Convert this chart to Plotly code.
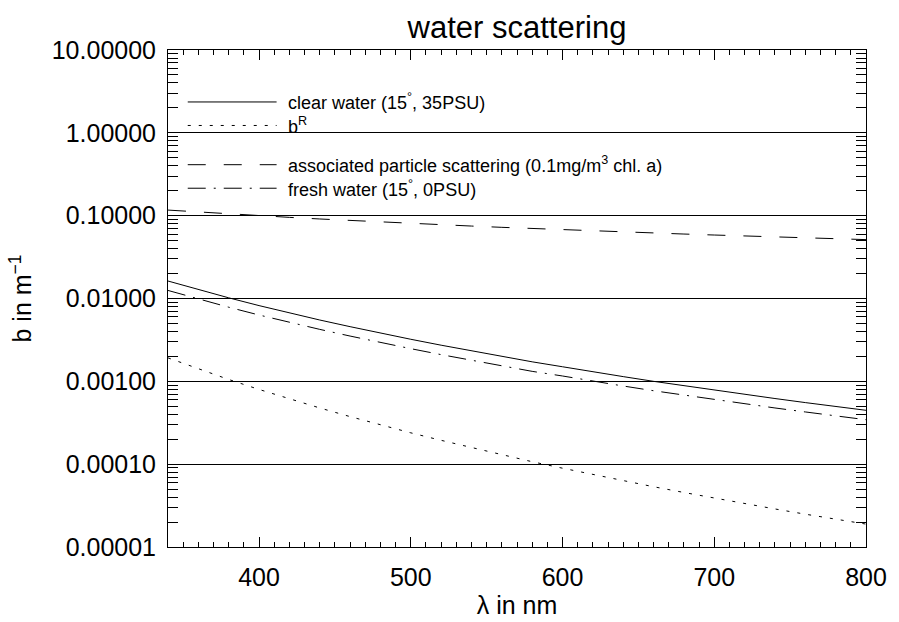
import plotly.graph_objects as go

# Wavelength grid (nm)
wavelength = [340, 360, 380, 400, 420, 440, 460, 480, 500, 520, 540, 560,
              580, 600, 620, 640, 660, 680, 700, 720, 740, 760, 780, 800]

# Scattering coefficients b (1/m)
clear_water = [0.01625, 0.01278, 0.01019, 0.00821, 0.00669, 0.00550, 0.00457, 0.00382,
               0.00322, 0.00273, 0.00233, 0.00200, 0.00172, 0.00150, 0.00130, 0.00114,
               0.00100, 0.000884, 0.000783, 0.000695, 0.000620, 0.000554, 0.000497, 0.000447]
raman = [0.001920, 0.001410, 0.001053, 0.000798, 0.000613, 0.000477, 0.000375, 0.000298,
         0.000239, 0.000194, 0.000158, 0.000130, 0.000107, 0.0000894, 0.0000749, 0.0000631,
         0.0000534, 0.0000455, 0.0000389, 0.0000334, 0.0000288, 0.0000249, 0.0000217, 0.0000189]
particles = [0.1168, 0.1106, 0.1050, 0.0999, 0.0954, 0.0912, 0.0874, 0.0839,
             0.0807, 0.0777, 0.0749, 0.0723, 0.0699, 0.0677, 0.0656, 0.0636,
             0.0618, 0.0600, 0.0584, 0.0568, 0.0554, 0.0540, 0.0526, 0.0514]
fresh_water = [0.01251, 0.00984, 0.00785, 0.00632, 0.00515, 0.00424, 0.00352, 0.00294,
               0.00248, 0.00210, 0.00179, 0.00154, 0.00132, 0.00116, 0.00100, 0.000878,
               0.000770, 0.000681, 0.000603, 0.000535, 0.000477, 0.000427, 0.000383, 0.000344]

series_values = [clear_water, raman, particles, fresh_water]
series_names = ["clear water (15<sup>°</sup>, 35PSU)",
                "b<sup>R</sup>",
                "associated particle scattering (0.1mg/m<sup>3</sup> chl. a)",
                "fresh water (15<sup>°</sup>, 0PSU)"]
series_dash = ["solid", "3px,8px", "18px,18px", "18px,8px,2px,8px"]

x_tick_vals = [400, 500, 600, 700, 800]
y_tick_vals = [1e-5, 1e-4, 1e-3, 1e-2, 1e-1, 1, 10]
y_tick_text = ["0.00001", "0.00010", "0.00100", "0.01000", "0.10000", "1.00000", "10.00000"]

W, H = 899, 622
M_L, M_R, M_T, M_B = 168, 24, 50, 65
FONT = "Liberation Sans, Arial, Helvetica, sans-serif"

# minor log ticks (2..9 in each decade)
y_minor = [d * k for d in y_tick_vals[:-1] for k in range(2, 10)]

fig = go.Figure()
for vals, name, dash in zip(series_values, series_names, series_dash):
    fig.add_trace(go.Scatter(x=wavelength, y=vals, mode="lines", name=name,
                             line=dict(color="black", width=1, dash=dash),
                             showlegend=False))

# hand-placed key in the upper-left corner of the plot area
legend_rows = [103, 127, 167, 191]
plot_h = H - M_T - M_B
plot_w = W - M_L - M_R
shapes, annotations = [], []
for name, dash, row in zip(series_names, series_dash, legend_rows):
    yp = (H - M_B - row) / plot_h
    shapes.append(dict(type="line", xref="paper", yref="paper",
                       x0=(188 - M_L) / plot_w, x1=(278 - M_L) / plot_w, y0=yp, y1=yp,
                       line=dict(color="black", width=1, dash=dash)))
    annotations.append(dict(text=name, xref="paper", yref="paper",
                            x=(288 - M_L) / plot_w, y=yp, xanchor="left", yanchor="middle",
                            showarrow=False, font=dict(size=18, color="black", family=FONT)))

fig.update_layout(
    width=W, height=H,
    margin=dict(l=M_L, r=M_R, t=M_T, b=M_B),
    paper_bgcolor="white", plot_bgcolor="white",
    font=dict(family=FONT, color="black", size=25),
    title=dict(text="water scattering", x=0.5, xref="paper", xanchor="center",
               y=1 - 27 / H, yref="container", yanchor="middle",
               font=dict(size=31, family=FONT, color="black")),
    shapes=shapes, annotations=annotations,
)

fig.update_xaxes(
    range=[340, 800], tickmode="array", tickvals=x_tick_vals,
    ticks="inside", ticklen=10, tickwidth=1, tickcolor="black",
    minor=dict(dtick=10, tick0=0, ticks="inside", ticklen=5, tickwidth=1, tickcolor="black"),
    showline=True, linecolor="black", linewidth=1, mirror="ticks",
    showgrid=False, zeroline=False, ticklabelstandoff=8,
    tickfont=dict(size=25),
    title=dict(text="λ in nm", font=dict(size=25), standoff=1),
)
fig.update_yaxes(
    type="log", range=[-5, 1], tickmode="array", tickvals=y_tick_vals, ticktext=y_tick_text,
    ticks="inside", ticklen=10, tickwidth=1, tickcolor="black",
    minor=dict(tickmode="array", tickvals=y_minor, ticks="inside", ticklen=10,
               tickwidth=1, tickcolor="black", showgrid=False),
    showline=True, linecolor="black", linewidth=1, mirror="ticks",
    showgrid=True, gridcolor="black", gridwidth=1, zeroline=False,
    tickfont=dict(size=25), ticklabelstandoff=6,
    title=dict(text="b in m<sup>−1</sup>", font=dict(size=25), standoff=12),
)

fig.write_html("out.html")
